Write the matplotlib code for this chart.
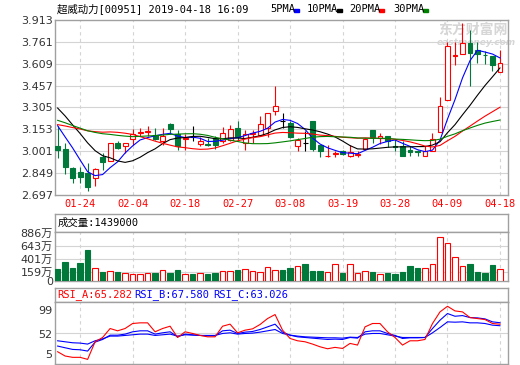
import matplotlib
matplotlib.use("Agg")
import matplotlib.pyplot as plt
import matplotlib.patches as mpatches
import pandas as pd

plt.rcParams['font.family'] = ['DejaVu Sans', 'Noto Sans CJK SC']
MONO = ['DejaVu Sans Mono', 'Noto Sans CJK SC']

# --- data ---
dates = ["01-21", "01-22", "01-23", "01-24", "01-25", "01-28", "01-29", "01-30", "01-31",
         "02-01", "02-04", "02-08", "02-11", "02-12", "02-13", "02-14", "02-15", "02-18",
         "02-19", "02-20", "02-21", "02-22", "02-25", "02-26", "02-27", "02-28",
         "03-01", "03-04", "03-05", "03-06", "03-07", "03-08", "03-11", "03-12", "03-13",
         "03-14", "03-15", "03-18", "03-19", "03-20", "03-21", "03-22", "03-25", "03-26",
         "03-27", "03-28", "03-29",
         "04-01", "04-02", "04-03", "04-04", "04-08", "04-09", "04-10", "04-11", "04-12",
         "04-15", "04-16", "04-17", "04-18"]

open_ = [3.035, 3.016, 2.884, 2.856, 2.849, 2.814, 2.960, 2.930, 3.058, 3.035,
         3.088, 3.128, 3.135, 3.116, 3.070, 3.193, 3.120, 3.085, 3.100, 3.050,
         3.050, 3.090, 3.070, 3.080, 3.163, 3.060, 3.120, 3.117, 3.160, 3.280,
         3.210, 3.198, 3.040, 3.060, 3.209, 3.046, 2.965, 2.985, 3.000, 2.965,
         2.975, 3.016, 3.150, 3.090, 3.110, 3.035, 3.035, 3.010, 3.000, 2.965,
         3.000, 3.133, 3.356, 3.660, 3.675, 3.752, 3.705, 3.672, 3.660, 3.552]
high = [3.174, 3.060, 2.895, 2.895, 2.920, 2.884, 2.988, 3.060, 3.070, 3.060,
        3.158, 3.160, 3.174, 3.160, 3.165, 3.200, 3.150, 3.120, 3.174, 3.100,
        3.090, 3.110, 3.170, 3.180, 3.210, 3.150, 3.150, 3.245, 3.270, 3.455,
        3.265, 3.210, 3.095, 3.140, 3.210, 3.046, 3.046, 3.000, 3.010, 3.046,
        3.000, 3.090, 3.150, 3.130, 3.110, 3.086, 3.070, 3.035, 3.010, 3.040,
        3.130, 3.380, 3.757, 3.757, 3.890, 3.845, 3.757, 3.700, 3.660, 3.705]
low = [2.956, 2.840, 2.779, 2.783, 2.727, 2.762, 2.872, 2.930, 3.020, 2.990,
       3.046, 3.110, 3.110, 3.080, 3.045, 3.120, 3.007, 3.010, 3.070, 3.040,
       3.040, 3.020, 3.060, 3.070, 3.070, 3.010, 3.060, 3.105, 3.100, 3.255,
       3.160, 3.090, 3.000, 3.000, 3.000, 2.960, 2.960, 2.960, 2.975, 2.960,
       2.960, 3.010, 3.060, 3.050, 3.030, 3.000, 2.970, 2.970, 2.970, 2.965,
       3.000, 3.133, 3.356, 3.600, 3.675, 3.454, 3.617, 3.605, 3.560, 3.552]
close = [3.012, 2.891, 2.818, 2.821, 2.751, 2.877, 2.928, 3.058, 3.023, 3.058,
         3.123, 3.135, 3.140, 3.086, 3.110, 3.156, 3.040, 3.090, 3.100, 3.070,
         3.045, 3.045, 3.128, 3.157, 3.100, 3.120, 3.130, 3.190, 3.265, 3.314,
         3.210, 3.100, 3.080, 3.060, 3.016, 3.000, 2.970, 2.990, 2.980, 2.998,
         2.980, 3.086, 3.100, 3.110, 3.070, 3.030, 2.970, 2.995, 2.995, 3.000,
         3.086, 3.314, 3.729, 3.670, 3.752, 3.687, 3.675, 3.668, 3.600, 3.617]

# closes before 01-21 (not shown), backed out from where the MA lines start
prev_close = [3.40, 3.40, 3.36, 3.30, 3.22, 3.20, 3.20, 3.22, 3.215, 3.24,
              3.08, 3.04, 3.02, 3.00, 3.00, 3.00, 3.02, 3.08, 3.18, 3.29,
              3.44, 3.44, 3.42, 3.40, 3.42, 3.28, 3.20, 3.24, 3.16]

# volume in 万
volume = [215, 350, 234, 331, 565, 228, 160, 178, 160, 136,
          123, 123, 136, 147, 197, 147, 197, 123, 123, 141,
          123, 141, 178, 178, 197, 215, 172, 166, 247, 197,
          197, 228, 270, 307, 184, 184, 160, 307, 147, 307,
          136, 178, 166, 123, 147, 123, 166, 270, 228, 228,
          307, 799, 688, 431, 270, 307, 166, 147, 289, 215]

rsi_a = [23.6, 17.1, 15.1, 15.1, 12.0, 38.7, 45.2, 58.8, 55.3, 58.8,
         66.4, 67.4, 67.4, 53.8, 58.8, 62.3, 45.2, 53.8, 51.3, 48.3,
         46.2, 46.2, 62.3, 65.4, 52.3, 56.3, 58.3, 64.9, 73.9, 80.0,
         56.3, 43.7, 40.2, 38.7, 35.2, 31.1, 28.1, 30.2, 28.6, 36.2,
         33.7, 61.3, 66.4, 66.4, 53.8, 45.2, 33.7, 40.2, 40.2, 42.2,
         66.4, 84.0, 92.5, 85.5, 84.0, 75.4, 73.9, 72.4, 66.4, 65.282]
rsi_b = [32.2, 29.6, 27.1, 26.6, 24.6, 38.2, 42.2, 48.7, 48.7, 50.3,
         53.8, 55.3, 55.3, 50.3, 52.3, 53.8, 46.2, 50.3, 49.3, 48.3,
         47.8, 47.8, 55.3, 56.3, 51.3, 53.3, 54.3, 57.3, 61.3, 65.4,
         53.3, 48.7, 46.2, 45.2, 44.2, 43.2, 42.2, 42.7, 42.2, 45.2,
         44.2, 53.8, 55.3, 55.3, 51.3, 48.3, 43.7, 44.7, 44.7, 45.2,
         58.8, 71.4, 81.5, 77.4, 78.4, 75.4, 74.9, 73.4, 68.9, 67.58]
rsi_c = [40.2, 38.7, 37.2, 36.7, 35.2, 40.2, 43.2, 47.3, 47.3, 48.3,
         49.3, 50.3, 50.3, 48.3, 49.3, 50.3, 47.3, 49.3, 48.8, 48.3,
         48.3, 48.3, 51.3, 52.3, 50.3, 51.3, 51.8, 53.3, 55.3, 57.3,
         51.3, 48.8, 47.3, 46.2, 45.7, 45.2, 44.7, 44.7, 44.2, 45.7,
         45.2, 50.3, 51.3, 51.3, 49.3, 47.3, 45.2, 45.2, 45.2, 45.2,
         52.3, 60.3, 68.9, 68.4, 68.9, 67.4, 67.4, 66.4, 63.9, 63.026]

price_ticks = [2.697, 2.849, 3.001, 3.153, 3.305, 3.457, 3.609, 3.761, 3.913]
vol_ticks = [0, 159, 401, 643, 886]
date_ticks = ["01-24", "02-04", "02-18", "02-27", "03-08", "03-19", "03-28", "04-09", "04-18"]
ma_periods = [5, 10, 20, 30]
ma_colors = ["#0000ff", "#000000", "#ff0000", "#008000"]

RED = "#ff0000"
GREEN = "#00793a"
GRID = "#d4d4d4"
EDGE = "#a0a0a0"

W, H = 520, 365
fig = plt.figure(figsize=(W / 100, H / 100), dpi=100)


def px_axes(x0, y0, x1, y1):
    return fig.add_axes([x0 / W, 1 - y1 / H, (x1 - x0) / W, (y1 - y0) / H])


def fig_text(x, y, s, **kw):
    fig.text(x / W, 1 - y / H, s, va='center', **kw)


n = len(close)
xs = list(range(n))
tick_pos = [dates.index(d) for d in date_ticks]


def style(ax, vgrid=True):
    for s in ax.spines.values():
        s.set_color(EDGE)
        s.set_linewidth(1)
    ax.set_xlim(-0.35, n + 0.07)
    ax.tick_params(length=0, labelsize=8, pad=1.5)
    ax.set_xticks(tick_pos)
    ax.set_xticklabels([])
    ax.set_yticks([])
    if vgrid:
        for p in tick_pos:
            ax.axvline(p, color=GRID, lw=0.8, ls=(0, (3, 3)), zorder=0)


# --- price panel ---
ax = px_axes(55, 20, 508, 195)
style(ax)
ax.set_ylim(price_ticks[0], price_ticks[-1])
ax.set_yticks(price_ticks)
ax.set_yticklabels([f"{v:.3f}" for v in price_ticks], color="#333333")
for v in price_ticks[1:-1]:
    ax.axhline(v, color=GRID, lw=0.8, zorder=0)
ax.set_xticklabels(date_ticks, color=RED, fontsize=7.5, family=MONO)
ax.tick_params(axis='x', pad=3)

# watermark, behind the candles
ax.text(473 / W, 1 - 30 / H, "东方财富网", transform=fig.transFigure, ha='center', va='center',
        fontsize=10, fontweight='bold', color="#d6d6d6", zorder=1)
ax.text(476 / W, 1 - 42.5 / H, "eastmoney.com", transform=fig.transFigure, ha='center', va='center',
        fontsize=6.5, fontweight='bold', style='italic', color="#d6d6d6", zorder=1)

for i in xs:
    o, h, l, c = open_[i], high[i], low[i], close[i]
    col = RED if c > o else (GREEN if c < o else "black")
    ax.vlines(i, l, h, color=col, lw=0.8, zorder=2)
    if c == o:
        ax.hlines(c, i - 0.33, i + 0.33, color=col, lw=0.8, zorder=3)
    else:
        ax.bar(i, abs(c - o), 0.66, bottom=min(o, c), facecolor="white" if c > o else col,
               edgecolor=col, lw=0.8, zorder=3)

full = pd.Series(prev_close + close)
for p, col in zip(ma_periods, ma_colors):
    ma = full.rolling(p).mean().iloc[len(prev_close):].to_numpy()
    ax.plot(xs, ma, color=col, lw=0.8, zorder=4)

# title and MA legend
fig_text(57, 9, "超威动力[00951] 2019-04-18 16:09", fontsize=7.5, family=MONO)
legend_x = [270, 307, 349, 393]
for p, col, lx in zip(ma_periods, ma_colors, legend_x):
    label = f"{p}PMA"
    fig_text(lx, 9, label, fontsize=7.5, family=MONO)
    sx = lx + 6.0 * len(label)
    fig.patches.append(mpatches.Rectangle((sx / W, 1 - 11.5 / H), 5 / W, 2.5 / H,
                                          transform=fig.transFigure, color=col))

# --- volume panel ---
hv = px_axes(55, 214, 508, 232)
style(hv, vgrid=False)
hv.text(0.005, 0.5, "成交量:1439000", transform=hv.transAxes, va='center', fontsize=7.5, family=MONO)

av = px_axes(55, 232, 508, 280.7)
style(av)
av.set_ylim(0, 897)
av.set_yticks(vol_ticks)
av.set_yticklabels(["0"] + [f"{v}万" for v in vol_ticks[1:]], color="#333333")
for v in vol_ticks[1:-1]:
    av.axhline(v, color=GRID, lw=0.8, zorder=0)
for i in xs:
    up = close[i] > open_[i]
    col = RED if up else GREEN
    av.bar(i, volume[i], 0.7, facecolor="white" if up else col, edgecolor=col, lw=0.8, zorder=3)

# --- RSI panel ---
hr = px_axes(55, 288, 508, 302)
style(hr, vgrid=False)
hr.text(0.005, 0.5, f"RSI_A:{rsi_a[-1]:.3f}", transform=hr.transAxes, va='center',
        fontsize=7.5, family=MONO, color=RED)
hr.text(0.176, 0.5, f"RSI_B:{rsi_b[-1]:.3f}", transform=hr.transAxes, va='center',
        fontsize=7.5, family=MONO, color="#0000ff")
hr.text(0.349, 0.5, f"RSI_C:{rsi_c[-1]:.3f}", transform=hr.transAxes, va='center',
        fontsize=7.5, family=MONO, color="#0000ff")

ar = px_axes(55, 302, 508, 364)
style(ar)
ar.set_ylim(5, 99)
ar.axhline(52, color=GRID, lw=0.8, zorder=0)
for lab, fy in [("99", 0.855), ("52", 0.47), ("5", 0.145)]:
    ar.text(-0.006, fy, lab, transform=ar.transAxes, ha='right', va='center',
            fontsize=8, color="#333333")
ar.plot(xs, rsi_c, color="#0000ff", lw=0.8, zorder=3)
ar.plot(xs, rsi_b, color="#0000ff", lw=0.8, zorder=3)
ar.plot(xs, rsi_a, color=RED, lw=0.8, zorder=4)

fig.savefig("out.png", dpi=100)
